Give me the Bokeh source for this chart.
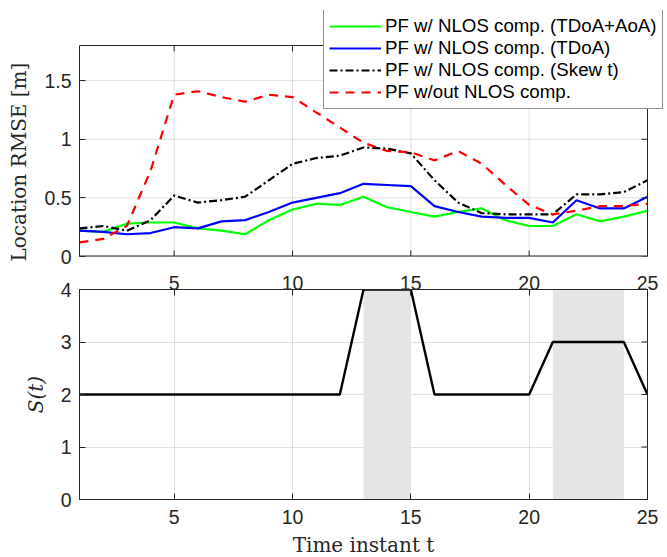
import math
from bokeh.plotting import figure
from bokeh.models import FixedTicker, Range1d, LinearAxis
from bokeh.layouts import column
from bokeh.embed import file_html
from bokeh.resources import INLINE

t = list(range(1, 26))
rmse_tdoa_aoa = [0.22, 0.21, 0.28, 0.29, 0.29, 0.24, 0.22, 0.19, 0.31, 0.40, 0.45, 0.44, 0.51,
                 0.42, 0.38, 0.34, 0.38, 0.41, 0.31, 0.26, 0.26, 0.36, 0.30, 0.34, 0.39]
rmse_tdoa = [0.22, 0.21, 0.19, 0.20, 0.25, 0.24, 0.30, 0.31, 0.38, 0.46, 0.50, 0.54, 0.62,
             0.61, 0.60, 0.43, 0.38, 0.34, 0.33, 0.33, 0.29, 0.48, 0.41, 0.41, 0.51]
rmse_skew = [0.24, 0.26, 0.22, 0.31, 0.52, 0.46, 0.48, 0.51, 0.65, 0.79, 0.84, 0.86, 0.93,
             0.92, 0.88, 0.65, 0.46, 0.37, 0.36, 0.36, 0.36, 0.53, 0.53, 0.55, 0.65]
rmse_nocomp = [0.12, 0.15, 0.26, 0.73, 1.38, 1.41, 1.36, 1.32, 1.38, 1.36, 1.23, 1.10, 0.97,
               0.90, 0.89, 0.82, 0.90, 0.79, 0.61, 0.44, 0.36, 0.39, 0.43, 0.43, 0.45]
state = [2, 2, 2, 2, 2, 2, 2, 2, 2, 2, 2, 2, 4, 4, 4, 2, 2, 2, 2, 2, 3, 3, 3, 3, 2]
shade_start = [13, 21]
shade_end = [15, 24]
shade_bottom = [0, 0]
shade_top = [4, 4]

x_min, x_max = 1, 25
rmse_min, rmse_max = 0, 1.8
state_min, state_max = 0, 4
x_ticks = [5, 10, 15, 20, 25]
rmse_ticks = [0, 0.5, 1, 1.5]
rmse_tick_labels = {0: "0", 0.5: "0.5", 1: "1", 1.5: "1.5"}
state_ticks = [0, 1, 2, 3, 4]

labels = ["PF w/ NLOS comp. (TDoA+AoA)", "PF w/ NLOS comp. (TDoA)",
          "PF w/ NLOS comp. (Skew t)", "PF w/out NLOS comp."]

AX = "#262626"
GRID = "#dedede"
TICK_FONT = "Liberation Sans"
LABEL_FONT = "DejaVu Serif"
TICK_SIZE = "19.5px"

# layout (pixels)
BOX_W = 568           # width of both axes boxes
BOX_H1 = 211          # height of the upper axes box
EXTRA_TOP = 35        # room above the upper box that the legend reaches into
EXTRA_RIGHT = 19      # room right of the upper box that the legend reaches into
BOX_H2 = 210
NBSP = "\u00a0"


def style_axis(ax):
    ax.axis_line_color = AX
    ax.major_tick_line_color = AX
    ax.major_tick_in = 6
    ax.major_tick_out = 0
    ax.minor_tick_line_color = None
    ax.major_label_text_font = TICK_FONT
    ax.major_label_text_font_size = TICK_SIZE
    ax.major_label_text_color = AX
    ax.axis_label_text_font = LABEL_FONT
    ax.axis_label_text_font_size = "20px"
    ax.axis_label_text_font_style = "normal"
    ax.axis_label_text_color = AX


def right_ticks(p, yticks):
    p.ray(x=[x_max] * len(yticks), y=yticks, length=6, length_units="screen",
          angle=math.pi, line_color=AX, line_width=1)


# ---- upper panel: RMSE ----
y1_top = rmse_max * (BOX_H1 + EXTRA_TOP) / BOX_H1
x1_right = x_max + EXTRA_RIGHT * (x_max - x_min) / BOX_W
p1 = figure(frame_width=BOX_W + EXTRA_RIGHT, frame_height=BOX_H1 + EXTRA_TOP,
            output_backend="svg", toolbar_location=None,
            x_range=Range1d(x_min, x1_right), y_range=Range1d(rmse_min, y1_top),
            x_axis_location=None,
            min_border_left=79, min_border_right=1, min_border_top=10, min_border_bottom=10)
p1.outline_line_color = None
p1.background_fill_color = "white"
p1.border_fill_color = "white"
p1.xgrid.visible = False
p1.ygrid.visible = False
# grid lines limited to the axes box
p1.segment(x0=x_ticks, y0=[rmse_min] * len(x_ticks), x1=x_ticks, y1=[rmse_max] * len(x_ticks),
           line_color=GRID, line_width=1, level="underlay")
p1.segment(x0=[x_min] * len(rmse_ticks), y0=rmse_ticks, x1=[x_max] * len(rmse_ticks),
           y1=rmse_ticks, line_color=GRID, line_width=1, level="underlay")

yl = p1.left[0]
yl.ticker = FixedTicker(ticks=rmse_ticks)
yl.major_label_overrides = rmse_tick_labels
style_axis(yl)
yl.bounds = (rmse_min, rmse_max)
yl.major_label_standoff = 8
yl.axis_label = "Location RMSE [m]" + NBSP * 9
yl.axis_label_standoff = 10

r1 = p1.line(t, rmse_tdoa_aoa, line_color="#00ff00", line_width=2.2, legend_label=labels[0])
r2 = p1.line(t, rmse_tdoa, line_color="#0000ff", line_width=2.2, legend_label=labels[1])
r3 = p1.line(t, rmse_skew, line_color="black", line_width=2.2, line_dash="8 3 2 3",
             legend_label=labels[2])
r4 = p1.line(t, rmse_nocomp, line_color="#ff0000", line_width=2.2, line_dash="9 7",
             legend_label=labels[3])

# axes box: bottom edge (on the frame border), top and right edges
p1.line(x=[x_min, x_max], y=[rmse_min, rmse_min], line_color=AX, line_width=2)
p1.segment(x0=[x_min, x_max], y0=[rmse_max, rmse_min], x1=[x_max, x_max], y1=[rmse_max, rmse_max],
           line_color=AX, line_width=1)
# inward ticks on top / bottom / right edges
p1.ray(x=x_ticks, y=[rmse_max] * len(x_ticks), length=6, length_units="screen",
       angle=-math.pi / 2, line_color=AX, line_width=1)
p1.ray(x=x_ticks, y=[rmse_min] * len(x_ticks), length=6, length_units="screen",
       angle=math.pi / 2, line_color=AX, line_width=1)
right_ticks(p1, rmse_ticks)

legend = p1.legend[0]
legend.location = (244, 147)
legend.label_text_font = TICK_FONT
legend.label_text_font_size = "18.7px"
legend.label_text_color = "black"
legend.glyph_width = 52
legend.glyph_height = 22
legend.label_height = 22
legend.label_standoff = 4
legend.spacing = 0
legend.padding = 5
legend.margin = 0
legend.border_line_color = AX
legend.border_line_width = 1
legend.background_fill_alpha = 1

# ---- lower panel: S(t) ----
p2 = figure(frame_width=BOX_W, frame_height=BOX_H2, output_backend="svg", toolbar_location=None,
            x_range=Range1d(x_min, x_max), y_range=Range1d(state_min, state_max),
            min_border_left=79, min_border_right=20, min_border_top=23, min_border_bottom=60)
p2.outline_line_color = AX
p2.background_fill_color = "white"
p2.border_fill_color = "white"
p2.quad(left=shade_start, right=shade_end, bottom=shade_bottom, top=shade_top,
        fill_color="#e5e5e5", line_color=None)
p2.line(t, state, line_color="black", line_width=2.4)
p2.xgrid.ticker = FixedTicker(ticks=x_ticks)
p2.ygrid.ticker = FixedTicker(ticks=state_ticks)
p2.xgrid.grid_line_color = GRID
p2.ygrid.grid_line_color = GRID

xb = p2.below[0]
xb.ticker = FixedTicker(ticks=x_ticks)
style_axis(xb)
xb.major_label_standoff = 10
xb.axis_label = "Time instant t"
xb.axis_label_standoff = 6

yl2 = p2.left[0]
yl2.ticker = FixedTicker(ticks=state_ticks)
style_axis(yl2)
yl2.major_label_standoff = 8
yl2.axis_label = "S(t)"
yl2.axis_label_text_font_style = "italic"
yl2.axis_label_standoff = 10

# x tick labels of the upper panel, drawn just above the lower panel
top_axis = LinearAxis(ticker=FixedTicker(ticks=x_ticks))
style_axis(top_axis)
top_axis.major_label_standoff = 0
p2.add_layout(top_axis, "above")
right_ticks(p2, state_ticks)

layout = column(p1, p2, spacing=0)
open("out.html", "w").write(file_html(layout, INLINE))
